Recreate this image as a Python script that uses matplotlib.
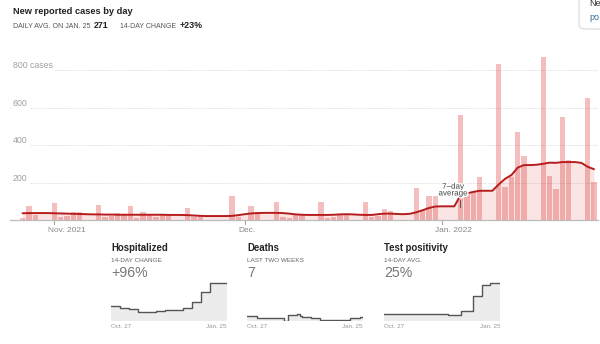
import matplotlib
matplotlib.use('Agg')
import matplotlib.pyplot as plt
import matplotlib.patheffects as pe
from matplotlib.patches import FancyBboxPatch
import numpy as np

plt.rcParams['font.family'] = ['Liberation Sans', 'DejaVu Sans']

# daily cases, Oct. 27 2021 -> Jan. 25 2022
cases = [10, 75, 27, 0, 0, 89, 18, 21, 44, 41, 0, 0, 80, 18, 21, 36, 27, 75, 10, 44,
         25, 15, 25, 30, 0, 0, 62, 15, 15, 0, 0, 0, 0, 128, 16, 0, 76, 44, 0, 0,
         98, 15, 10, 25, 25, 0, 0, 96, 10, 15, 30, 25, 0, 0, 98, 15, 20, 59, 48, 0,
         0, 0, 172, 55, 130, 130, 0, 0, 0, 560, 145, 150, 231, 0, 0, 832, 178, 231, 468, 341,
         0, 0, 868, 235, 163, 551, 320, 0, 0, 649, 204]
avg7 = [36, 37, 37, 37, 37, 36, 35, 34, 33, 32, 31, 30, 30, 29, 29, 28, 28, 28, 28, 28,
        28, 28, 28, 27, 27, 27, 26, 24, 22, 21, 21, 21, 21, 22, 26, 31, 35, 37, 38, 38,
        38, 37, 34, 30, 28, 27, 27, 27, 27, 28, 30, 31, 30, 28, 27, 27, 31, 34, 34, 32,
        31, 33, 41, 52, 64, 72, 73, 73, 73, 133, 142, 150, 156, 156, 156, 190, 220, 240, 280, 293,
        293, 295, 300, 306, 305, 309, 309, 309, 305, 284, 271]
days = np.arange(len(cases))

y_ticks = [200, 400, 600, 800]
y_labels = ['200', '400', '600', '800 cases']
month_days = [5, 35, 66]
month_labels = ['Nov. 2021', 'Dec.', 'Jan. 2022']

# small panels (step series, day index -> value)
hosp_days = [0, 7, 14, 21, 35, 42, 56, 63, 70, 77]
hosp_vals = [15, 13.3, 12, 9.3, 10, 10.7, 13.3, 19.3, 29.3, 38.3]
death_days = [0, 8, 29, 32, 39, 41, 43, 50, 57, 80, 88]
death_vals = [0.53, 0.33, 0.03, 0.6, 0.7, 0.55, 0.43, 0.27, 0.1, 0.27, 0.43]
pos_days = [0, 7, 34, 50, 60, 69, 76, 82]
pos_vals = [4.8, 4.4, 4.6, 3.9, 6.5, 16.3, 23.5, 25.0]

W, H = 600, 344


def fx(px):
    return px / W


def fy(py):
    return 1 - py / H


fig = plt.figure(figsize=(6, 3.44), dpi=100)
fig.patch.set_facecolor('white')

# header
fig.text(fx(13), fy(12), 'New reported cases by day', fontsize=6.7, weight='bold',
         color='#222', va='center')
fig.text(fx(13), fy(26), 'DAILY AVG. ON JAN. 25', fontsize=5.0, color='#555', va='center')
fig.text(fx(94), fy(26), '271', fontsize=6.4, weight='bold', color='#222', va='center')
fig.text(fx(120), fy(26), '14-DAY CHANGE', fontsize=5.0, color='#555', va='center')
fig.text(fx(180), fy(26), '+23%', fontsize=6.4, weight='bold', color='#222', va='center')

# main chart
ax = fig.add_axes([fx(10), fy(220), fx(598) - fx(10), fy(50) - fy(220)])
ax.set_xlim((10 - 22.5) / 6.35, (598 - 22.5) / 6.35)
ax.set_ylim(0, 907)
ax.axis('off')

for v, lab in zip(y_ticks, y_labels):
    ax.axhline(v, color='#d6d6d6', lw=0.6, ls=(0, (1.5, 1.5)), zorder=0)
    ax.text(-1.5, v + 10, lab, ha='left', va='baseline', fontsize=6.3, color='#a0a0a0',
            bbox=dict(fc='white', ec='none', pad=1.6), zorder=1)

ax.fill_between(days, avg7, 0, color='#dc2828', alpha=0.12, lw=0, zorder=1)
ax.bar(days, cases, width=0.84, color='#dc2828', alpha=0.3, lw=0, zorder=2)
ax.plot(days, avg7, color='#b71c1c', lw=1.4, zorder=4, solid_capstyle='round')
ax.axhline(0, color='#bbb', lw=0.9, zorder=3, clip_on=False)

for d, lab in zip(month_days, month_labels):
    ax.plot([d, d], [0, -22], color='#999', lw=0.7, clip_on=False)
    ax.text(d - 1.0, -58, lab, ha='left', va='center', fontsize=6, color='#888')

ax.text(67.8, 157, '7–day\naverage', ha='center', va='center', fontsize=5.8, color='#444',
        linespacing=0.95, zorder=6,
        path_effects=[pe.withStroke(linewidth=2, foreground='white')])
ax.plot([68.9, 68.9], [107, 69], color='#444', lw=0.6, zorder=6)


# small multiples
def panel(x0, title, sub, big, sdays, svals, ymax):
    fig.text(fx(x0), fy(248), title, fontsize=6.9, weight='bold', color='#222', va='center')
    fig.text(fx(x0), fy(260), sub, fontsize=4.6, color='#666', va='center')
    fig.text(fx(x0), fy(273), big, fontsize=10.2, color='#777', va='center')
    sx = fig.add_axes([fx(x0), fy(321), 116 / W, 39 / H])
    xs = list(sdays) + [90]
    ys = list(svals) + [svals[-1]]
    sx.fill_between(xs, ys, 0, step='post', color='#ececec', lw=0)
    sx.step(xs, ys, where='post', color='#555', lw=1.0)
    sx.set_xlim(0, 90)
    sx.set_ylim(0, ymax)
    sx.axis('off')
    fig.text(fx(x0), fy(327), 'Oct. 27', fontsize=4.5, color='#999', va='center')
    fig.text(fx(x0 + 116), fy(327), 'Jan. 25', fontsize=4.5, color='#999', va='center',
             ha='right')


panel(111, 'Hospitalized', '14-DAY CHANGE', '+96%', hosp_days, hosp_vals, 39)
panel(247, 'Deaths', 'LAST TWO WEEKS', '7', death_days, death_vals, 3.9)
panel(384, 'Test positivity', '14-DAY AVG.', '25%', pos_days, pos_vals, 25.5)

# clipped tooltip box at top right
box = FancyBboxPatch((fx(579), fy(29)), 0.1, 0.2, boxstyle='round,pad=0,rounding_size=0.012',
                     transform=fig.transFigure, ec='#d8d8d8', fc='white', lw=0.8)
fig.patches.append(box)
fig.text(fx(589), fy(4), 'Ne', fontsize=6.5, color='#333', va='center')
fig.text(fx(589), fy(17), 'po', fontsize=6.5, color='#326891', va='center')

fig.savefig('out.png', dpi=100)
